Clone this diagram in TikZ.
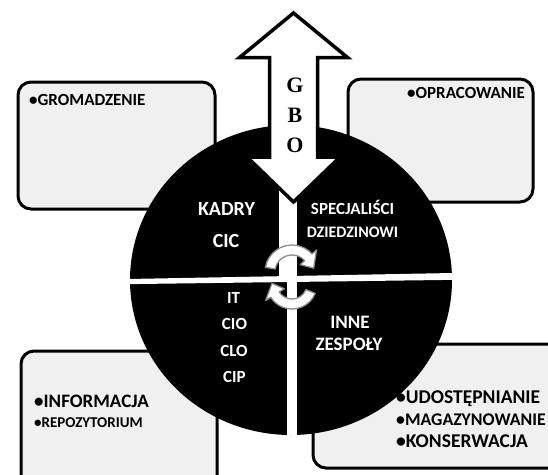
\documentclass[tikz,border=0pt]{standalone}
\usepackage{fontspec}
\newfontfamily\carl{Carlito}
\newfontfamily\tms{Liberation Serif}
\begin{document}
\begin{tikzpicture}[x=1pt,y=-1pt,
  panel/.style={draw=black, line width=3pt, rounded corners=13pt, fill=black!6},
  paneltext/.style={anchor=base west, inner sep=0pt, font=\carl\bfseries\fontsize{#1}{#1}\selectfont},
  wedgetext/.style={anchor=base, text=white, inner sep=0pt, font=\carl\bfseries\fontsize{#1}{#1}\selectfont},
  bigarrow/.style={fill=white, draw=black, line width=3.5pt, line join=miter},
  cycarrow/.style={fill=white, draw=black!45, line width=1.3pt, line join=round},
  arrowletter/.style={inner sep=0pt, font=\tms\bfseries\fontsize{22}{22}\selectfont}]
\useasboundingbox (0,0) rectangle (548,474);
\clip (0,0) rectangle (548,474);

% four corner panels
\draw[panel] (18,82) rectangle (215,209);
\draw[panel] (348,79) rectangle (533,202);
\draw[panel] (21,351) rectangle (217,490);
\draw[panel] (313,344) rectangle (570,468);

% the black disc split into four wedges
\coordinate (hub) at (291,280);
\fill[black] (hub) ellipse [x radius=161, y radius=155];
\begin{scope}
  \clip (hub) ellipse [x radius=161, y radius=155];
  \fill[white] (100,279.5) -- (480,272.5) -- (480,279.5) -- (100,284.5) -- cycle;
  \fill[white] (279,190) rectangle (297,280);
  \fill[white] (287,276) rectangle (297,450);
\end{scope}

% double-headed vertical arrow
\draw[bigarrow] (293.5,13) -- (347.5,57.5) -- (317.5,57.5) -- (317.5,157)
  -- (340,157) -- (293.5,202) -- (247,157) -- (269.5,157) -- (269.5,57.5)
  -- (239.5,57.5) -- cycle;
\node[arrowletter] (g) at (295,85) {G};
\node[arrowletter] (b) at (295,115) {B};
\node[arrowletter] (o) at (295,145) {O};

% circular arrows in the middle
\coordinate (upc) at (292,272);
\coordinate (loc) at (292,284);
\begin{scope}[shift={(upc)}]
  \draw[cycarrow] (190:27) arc[start angle=190, end angle=318, radius=27]
    -- (318:33) -- (350:22) -- (318:11) -- (318:17)
    arc[start angle=318, end angle=190, radius=17] -- cycle;
\end{scope}
\begin{scope}[shift={(loc)}]
  \draw[cycarrow] (22:25) arc[start angle=22, end angle=148, radius=25]
    -- (148:31) -- (182:20) -- (148:9) -- (148:15)
    arc[start angle=148, end angle=22, radius=15] -- cycle;
\end{scope}

% wedge labels
\node[wedgetext=20] (kadry) at (226.5,215) {KADRY};
\node[wedgetext=20] (cic) at (226,247) {CIC};
\node[wedgetext=17] (spec) at (352.5,214) {SPECJALIŚCI};
\node[wedgetext=16] (dzie) at (352.5,237) {DZIEDZINOWI};
\node[wedgetext=17] (it) at (233.5,303) {IT};
\node[wedgetext=17] (cio) at (234.5,329) {CIO};
\node[wedgetext=17] (clo) at (234,356) {CLO};
\node[wedgetext=17] (cip) at (234.5,382) {CIP};
\node[wedgetext=19] (inne) at (350,328) {INNE};
\node[wedgetext=19] (zesp) at (349,350) {ZESPOŁY};

% panel labels
\node[paneltext=17] (grom) at (29,105) {•GROMADZENIE};
\node[paneltext=17] (opra) at (407,98) {•OPRACOWANIE};
\node[paneltext=19] (info) at (34,407) {•INFORMACJA};
\node[paneltext=15] (repo) at (34,427) {•REPOZYTORIUM};
\node[paneltext=19.5] (udos) at (396,403) {•UDOSTĘPNIANIE};
\node[paneltext=17.8] (maga) at (396,425) {•MAGAZYNOWANIE};
\node[paneltext=19.5] (kons) at (396,447) {•KONSERWACJA};
\end{tikzpicture}
\end{document}
